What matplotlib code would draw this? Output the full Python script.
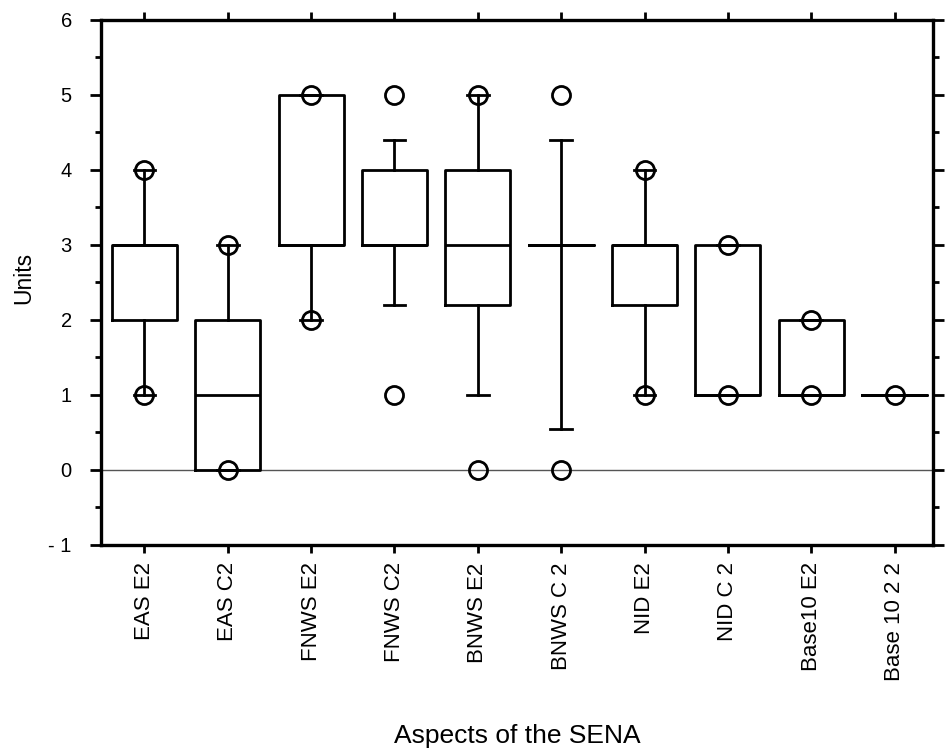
import matplotlib
matplotlib.use("Agg")
import matplotlib.pyplot as plt
from matplotlib.ticker import MultipleLocator

# ---- data ----
categories = ["EAS E2", "EAS C2", "FNWS E2", "FNWS C2", "BNWS E2",
              "BNWS C 2", "NID E2", "NID C 2", "Base10 E2", "Base 10 2 2"]
q1_vals = [2, 0, 3, 3, 2.2, 3, 2.2, 1, 1, 1]
median_vals = [3, 1, 3, 3, 3, 3, 3, 1, 1, 1]
q3_vals = [3, 2, 5, 4, 4, 3, 3, 3, 2, 1]
whisker_low = [1, 0, 2, 2.2, 1, 0.55, 1, 1, 1, 1]
whisker_high = [4, 3, 5, 4.4, 5, 4.4, 4, 3, 2, 1]
outliers = [[1, 4], [0, 3], [2, 5], [1, 5], [0, 5],
            [0, 5], [1, 4], [1, 3], [1, 2], [1]]
y_ticks = [-1, 0, 1, 2, 3, 4, 5, 6]
y_tick_labels = ["- 1", "0", "1", "2", "3", "4", "5", "6"]

plt.rcParams["font.family"] = ["Liberation Sans", "DejaVu Sans"]

fig = plt.figure(figsize=(9.48, 7.52), dpi=100)
ax = fig.add_axes([101 / 948, (752 - 545) / 752, (933 - 101) / 948, (545 - 19.5) / 752])

positions = list(range(len(categories)))
stats = []
for i, name in enumerate(categories):
    stats.append(dict(label=name, q1=q1_vals[i], med=median_vals[i], q3=q3_vals[i],
                      whislo=whisker_low[i], whishi=whisker_high[i],
                      fliers=outliers[i]))

lw = 2.0
ax.axhline(0, color="#555555", lw=1.0, zorder=0)
ax.bxp(stats, positions=positions, widths=0.78, capwidths=0.26,
       showfliers=True,
       boxprops=dict(color="black", lw=lw),
       medianprops=dict(color="black", lw=lw),
       whiskerprops=dict(color="black", lw=lw),
       capprops=dict(color="black", lw=lw),
       flierprops=dict(marker="o", markersize=13, markerfacecolor="none",
                       markeredgecolor="black", markeredgewidth=2.0, linestyle="none"))

ax.set_xlim(-0.52, 9.46)
ax.set_ylim(-1, 6)

for s in ax.spines.values():
    s.set_linewidth(2.4)

ax.set_xticks(positions)
ax.set_xticklabels(categories, rotation=90, fontsize=16)
ax.set_yticks(y_ticks)
ax.set_yticklabels(y_tick_labels, fontsize=14.5)
ax.yaxis.set_minor_locator(MultipleLocator(0.5))
ax.tick_params(axis="both", which="major", direction="out", length=8, width=2,
               top=True, right=True, labeltop=False, labelright=False)
ax.tick_params(axis="y", which="major", pad=13)
ax.tick_params(axis="x", which="major", pad=6.5, length=6)
ax.tick_params(axis="y", which="minor", direction="out", length=4, width=2,
               left=True, right=True)

fig.text(24 / 948, 1 - 278 / 752, "Units", rotation=90, ha="center", va="center", fontsize=16.5)
fig.text(517 / 948, 1 - 736 / 752, "Aspects of the SENA", ha="center", va="center",
         fontsize=19)

fig.savefig("out.png", dpi=100)
